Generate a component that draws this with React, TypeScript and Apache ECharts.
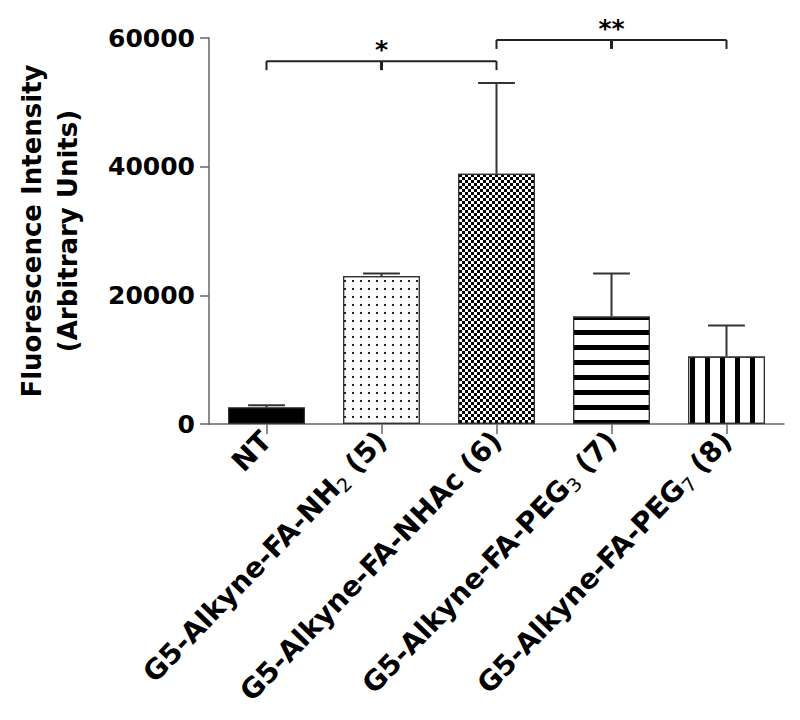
import { useEffect, useRef } from 'react';
import * as echarts from 'echarts';

// ---- data ----
const categories = [
  'NT',
  'G5-Alkyne-FA-NH2 (5)',
  'G5-Alkyne-FA-NHAc (6)',
  'G5-Alkyne-FA-PEG3 (7)',
  'G5-Alkyne-FA-PEG7 (8)',
];
const labelMain = ['NT', 'G5-Alkyne-FA-NH', 'G5-Alkyne-FA-NHAc', 'G5-Alkyne-FA-PEG', 'G5-Alkyne-FA-PEG'];
const labelSub = ['', '2', '', '3', '7'];
const labelTail = ['', ' (5)', ' (6)', ' (7)', ' (8)'];
const means = [2600, 23000, 38900, 16700, 10500];
const errors = [300, 400, 14100, 6700, 4800];
const yMin = 0;
const yMax = 60000;
const yInterval = 20000;
const bracketFrom = [0, 2];
const bracketTo = [2, 4];
const bracketY = [56400, 59700];
const bracketLabels = ['*', '**'];

const FONT = 'DejaVu Sans';

export default function App() {
  const ref = useRef<HTMLDivElement>(null);
  useEffect(() => {
    if (!ref.current) return;
    const chart = echarts.init(ref.current, null, { renderer: 'svg' });

    const decals: any[] = [
      null,
      { symbol: 'rect', symbolSize: 1, color: '#222', dashArrayX: [2, 6], dashArrayY: [2, 6] },
      { symbol: 'rect', symbolSize: 1, color: '#000', dashArrayX: [[3, 3], [0, 3, 3, 0]], dashArrayY: [3, 0] },
      { symbol: 'rect', symbolSize: 1, color: '#000', dashArrayX: [1, 0], dashArrayY: [5, 10] },
      { symbol: 'rect', symbolSize: 1, color: '#000', dashArrayX: [5, 10], dashArrayY: [1, 0] },
    ];

    const barData = means.map((v, i) => ({
      value: v,
      itemStyle: {
        color: i === 0 ? '#000' : '#fff',
        borderColor: '#333',
        borderWidth: 1.2,
        ...(decals[i] ? { decal: decals[i] } : {}),
      },
    }));

    const errData = means.map((v, i) => [i, v, v + errors[i]]);
    const bracketData = bracketFrom.map((f, i) => [f, bracketY[i], bracketTo[i]]);

    const option: any = {
      animation: false,
      backgroundColor: '#fff',
      grid: { left: 209, right: 16, top: 38, bottom: 296, containLabel: false },
      xAxis: {
        type: 'category',
        data: categories,
        boundaryGap: true,
        axisLine: { show: true, lineStyle: { color: '#666', width: 1.5 } },
        axisTick: { show: true, alignWithLabel: true, length: 10, lineStyle: { color: '#666', width: 1.5 } },
        axisLabel: {
          interval: 0,
          rotate: 46,
          margin: 12,
          color: '#000',
          fontFamily: FONT,
          fontWeight: 'bold',
          fontSize: 28,
          formatter: (_v: string, i: number) =>
            labelMain[i] + (labelSub[i] ? '{s|' + labelSub[i] + '}' : '') + labelTail[i],
          rich: {
            s: {
              fontFamily: FONT,
              fontWeight: 'normal',
              fontSize: 19,
              color: '#000',
              verticalAlign: 'top',
              padding: [14, 0, 0, 0],
            },
          },
        },
        splitLine: { show: false },
      },
      yAxis: {
        type: 'value',
        min: yMin,
        max: yMax,
        interval: yInterval,
        name: 'Fluorescence Intensity\n(Arbitrary Units)',
        nameLocation: 'middle',
        nameGap: 123,
        nameTextStyle: { fontFamily: FONT, fontWeight: 'bold', fontSize: 26, lineHeight: 36, color: '#000' },
        axisLine: { show: true, lineStyle: { color: '#666', width: 1.5 } },
        axisTick: { show: true, length: 9, lineStyle: { color: '#666', width: 1.5 } },
        axisLabel: {
          color: '#000',
          fontFamily: FONT,
          fontWeight: 'bold',
          fontSize: 25,
          margin: 14,
          formatter: (v: number) => String(v),
        },
        splitLine: { show: false },
      },
      series: [
        {
          type: 'bar',
          data: barData,
          barWidth: 77,
          z: 2,
        },
        {
          type: 'custom',
          data: errData,
          z: 3,
          clip: false,
          renderItem: (_p: any, api: any) => {
            const x = api.value(0);
            const p0 = api.coord([x, api.value(1)]);
            const p1 = api.coord([x, api.value(2)]);
            const half = api.size([1, 0])[0] * 0.16;
            const st = { stroke: '#333', lineWidth: 2 };
            return {
              type: 'group',
              children: [
                { type: 'line', shape: { x1: p0[0], y1: p0[1], x2: p1[0], y2: p1[1] }, style: st },
                { type: 'line', shape: { x1: p1[0] - half, y1: p1[1], x2: p1[0] + half, y2: p1[1] }, style: st },
              ],
            };
          },
        },
        {
          type: 'custom',
          data: bracketData,
          z: 3,
          clip: false,
          renderItem: (params: any, api: any) => {
            const pL = api.coord([api.value(0), api.value(1)]);
            const pR = api.coord([api.value(2), api.value(1)]);
            const y = pL[1];
            const mx = (pL[0] + pR[0]) / 2;
            const st = { stroke: '#222', lineWidth: 2 };
            const tick = 9;
            return {
              type: 'group',
              children: [
                { type: 'line', shape: { x1: pL[0], y1: y, x2: pR[0], y2: y }, style: st },
                { type: 'line', shape: { x1: pL[0], y1: y, x2: pL[0], y2: y + tick }, style: st },
                { type: 'line', shape: { x1: pR[0], y1: y, x2: pR[0], y2: y + tick }, style: st },
                { type: 'line', shape: { x1: mx, y1: y, x2: mx, y2: y + tick }, style: { stroke: '#222', lineWidth: 3 } },
                {
                  type: 'text',
                  style: {
                    x: mx,
                    y: y + 1,
                    text: bracketLabels[params.dataIndex],
                    align: 'center',
                    verticalAlign: 'bottom',
                    fontFamily: FONT,
                    fontWeight: 'bold',
                    fontSize: 25,
                    fill: '#000',
                  },
                },
              ],
            };
          },
        },
      ],
    };
    chart.setOption(option);
    return () => chart.dispose();
  }, []);
  return (
    <div
      ref={ref}
      style={{ position: 'fixed', left: 0, top: 0, width: 800, height: 720, background: '#fff' }}
    />
  );
}
